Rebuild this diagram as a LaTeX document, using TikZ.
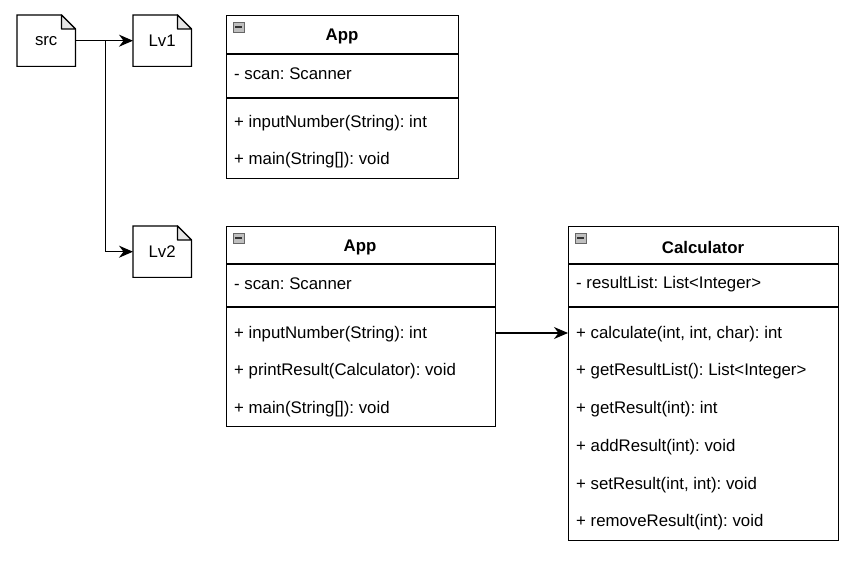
\documentclass[tikz,border=0pt]{standalone}
\usepackage{fontspec}
\setmainfont{Liberation Sans}
\usetikzlibrary{arrows.meta}
\frenchspacing
\begin{document}
\begin{tikzpicture}[x=1pt,y=-1pt,
  every node/.style={font=\fontsize{16.8}{19}\selectfont},
  line/.style={line width=1.2pt,draw=black},
  notebox/.style={minimum width=58pt,minimum height=51pt,inner sep=0pt,anchor=north west},
  classbox/.style={draw=black,line width=1.2pt,fill=white,anchor=north west,inner sep=0pt},
  member/.style={anchor=west,inner sep=0pt,yshift=-1pt},
  ctitle/.style={font=\fontsize{16.8}{19}\selectfont\bfseries,inner sep=0pt,yshift=-1.5pt},
  arr/.style={line width=1.3pt,-{Stealth[length=14pt,width=12pt,inset=4.5pt]}}
]
\useasboundingbox (0,0) rectangle (863,564);

\newcommand{\notedraw}[1]{%
  \draw[line,fill=white] (#1.south west) -- (#1.north west) -- ([xshift=-14pt]#1.north east) -- ([yshift=-14pt]#1.north east) -- (#1.south east) -- cycle;
  \draw[line,fill=black!10,line join=round] ([xshift=-14pt]#1.north east) -- ([xshift=-14pt,yshift=-14pt]#1.north east) -- ([yshift=-14pt]#1.north east) -- cycle;
}
\newcommand{\collapseicon}[1]{%
  \draw[draw=black!60,fill=black!25,line width=0.6pt] ([xshift=7pt,yshift=-7pt]#1.north west) rectangle ([xshift=18pt,yshift=-17pt]#1.north west);
  \draw[draw=black!80,line width=1.2pt] ([xshift=9pt,yshift=-12pt]#1.north west) -- ([xshift=16pt,yshift=-12pt]#1.north west);
}

\node[notebox] (src) at (17,15) {};
\notedraw{src}
\node[inner sep=0pt] at (src.center) {src};
\node[notebox] (lv1) at (133,15) {};
\notedraw{lv1}
\node[inner sep=0pt] at (lv1.center) {Lv1};
\node[notebox] (lv2) at (133,226) {};
\notedraw{lv2}
\node[inner sep=0pt] at (lv2.center) {Lv2};

\draw[arr] (src.east) -- (lv1.west);
\draw[arr] (src.east) -- ++(30,0) |- (lv2.west);

% App (Lv1)
\node[classbox,minimum width=232pt,minimum height=163pt] (app1) at (226,15) {};
\draw[line] (226,54) -- (458,54);
\draw[line] (226,98) -- (458,98);
\collapseicon{app1}
\node[ctitle] (app1t) at (342,35) {App};
\node[member] (app1a) at (234,73) {- scan: Scanner};
\node[member] (app1m1) at (234,122) {+ inputNumber(String): int};
\node[member] (app1m2) at (234,159) {+ main(String[]): void};

% App (Lv2)
\node[classbox,minimum width=269pt,minimum height=200pt] (app2) at (226,226) {};
\draw[line] (226,264) -- (495,264);
\draw[line] (226,307) -- (495,307);
\collapseicon{app2}
\node[ctitle] (app2t) at (360,246) {App};
\node[member] (app2a) at (234,283) {- scan: Scanner};
\node[member] (app2m1) at (234,333) {+ inputNumber(String): int};
\node[member] (app2m2) at (234,370) {+ printResult(Calculator): void};
\node[member] (app2m3) at (234,408) {+ main(String[]): void};

% Calculator
\node[classbox,minimum width=270pt,minimum height=314pt] (calc) at (568,226) {};
\draw[line] (568,264) -- (838,264);
\draw[line] (568,307) -- (838,307);
\collapseicon{calc}
\node[ctitle] (calct) at (703,246) {Calculator};
\node[member] (calca) at (576,283) {- resultList: List<Integer>};
\node[member] (calcm1) at (576,333) {+ calculate(int, int, char): int};
\node[member] (calcm2) at (576,370) {+ getResultList(): List<Integer>};
\node[member] (calcm3) at (576,408) {+ getResult(int): int};
\node[member] (calcm4) at (576,446) {+ addResult(int): void};
\node[member] (calcm5) at (576,484) {+ setResult(int, int): void};
\node[member] (calcm6) at (576,521) {+ removeResult(int): void};

\coordinate (a2r) at (app2.east |- 0,333);
\coordinate (cl) at (calc.west |- 0,333);
\draw[arr] (a2r) -- (cl);
\end{tikzpicture}
\end{document}
